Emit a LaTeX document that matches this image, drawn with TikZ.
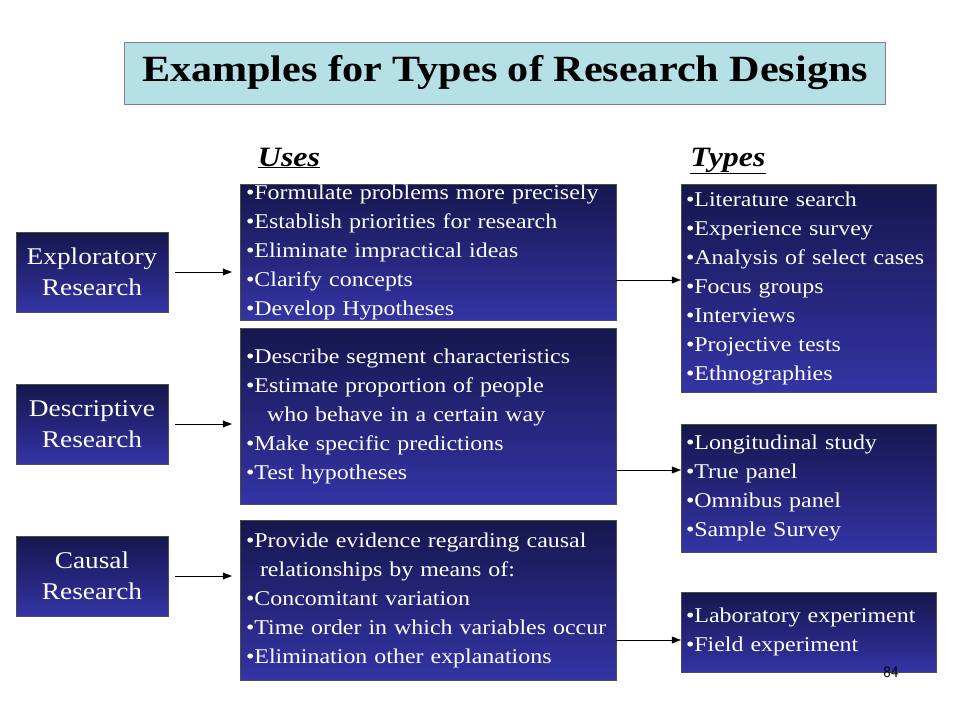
\documentclass[tikz,border=0pt]{standalone}
\usepackage{fontspec}
\setmainfont[FakeStretch=1.14]{Liberation Serif}
\usetikzlibrary{arrows.meta}
\definecolor{navytop}{RGB}{22,22,78}
\definecolor{navybot}{RGB}{52,52,165}
\definecolor{titlefill}{RGB}{180,224,230}
\tikzset{
  bluebox/.style={draw=black!70,top color=navytop,bottom color=navybot,text=white,
    font=\fontsize{21}{29}\selectfont,align=left,inner sep=0pt},
  leftbox/.style={bluebox,align=center,font=\fontsize{24}{31}\selectfont,minimum width=152pt,minimum height=80pt},
  link/.style={-{Triangle[length=9pt,width=7pt]},thin}
}
\begin{document}
\begin{tikzpicture}[x=1pt,y=-1pt]
    \useasboundingbox (0,0) rectangle (960,720);

    \node[draw=black!50,fill=titlefill,minimum width=761pt,minimum height=62pt,
          font=\fontsize{37}{40}\selectfont\bfseries] (title) at (505,73) {Examples for Types of Research Designs};

    \node[anchor=base,font=\fontsize{28}{30}\selectfont\bfseries\itshape] (uses) at (289,166) {\underline{Uses}};
    \node[anchor=base,font=\fontsize{28}{30}\selectfont\bfseries\itshape] (types) at (728,166) {\underline{Types}};

    % research kinds
    \node[leftbox] (L_1) at (92,272) {Exploratory\\Research};
    \node[leftbox] (L_2) at (92,424) {Descriptive\\Research};
    \node[leftbox] (L_3) at (92,576) {Causal\\Research};

    % uses
    \node[bluebox,minimum width=376pt,minimum height=136pt,text width=364pt] (U_1) at (428,252)
        {•Formulate problems more precisely\\•Establish priorities for research\\•Eliminate impractical ideas\\•Clarify concepts\\•Develop Hypotheses};
    \node[bluebox,minimum width=376pt,minimum height=176pt,text width=364pt] (U_2) at (428,416)
        {•Describe segment characteristics\\•Estimate proportion of people\\\ \ \ who behave in a certain way\\•Make specific predictions\\•Test hypotheses};
    \node[bluebox,minimum width=376pt,minimum height=160pt,text width=364pt] (U_3) at (428,600)
        {•Provide evidence regarding causal\\\ \ relationships by means of:\\•Concomitant variation\\•Time order in which variables occur\\•Elimination other explanations};

    % types
    \node[bluebox,minimum width=255pt,minimum height=208pt,text width=245pt] (T_1) at (808.5,288)
        {•Literature search\\•Experience survey\\•Analysis of select cases\\•Focus groups\\•Interviews\\•Projective tests\\•Ethnographies};
    \node[bluebox,minimum width=255pt,minimum height=128pt,text width=245pt] (T_2) at (808.5,488)
        {•Longitudinal study\\•True panel\\•Omnibus panel\\•Sample Survey};
    \node[bluebox,minimum width=255pt,minimum height=80pt,text width=245pt] (T_3) at (808.5,632)
        {•Laboratory experiment\\•Field experiment};

    \node[font=\fontsize{16}{18}\selectfont\sffamily] (page) at (891,672) {84};

    \draw[link,shorten <=7pt,shorten >=8pt] (L_1) -- (U_1.west |- L_1);
    \draw[link,shorten <=7pt,shorten >=8pt] (L_2) -- (U_2.west |- L_2);
    \draw[link,shorten <=7pt,shorten >=8pt] (L_3) -- (U_3.west |- L_3);
    \draw[link] (U_1.east |- 0,280) -- (T_1.west |- 0,280);
    \draw[link] (U_2.east |- 0,470) -- (T_2.west |- 0,470);
    \draw[link] (U_3.east |- 0,640) -- (T_3.west |- 0,640);
\end{tikzpicture}
\end{document}
